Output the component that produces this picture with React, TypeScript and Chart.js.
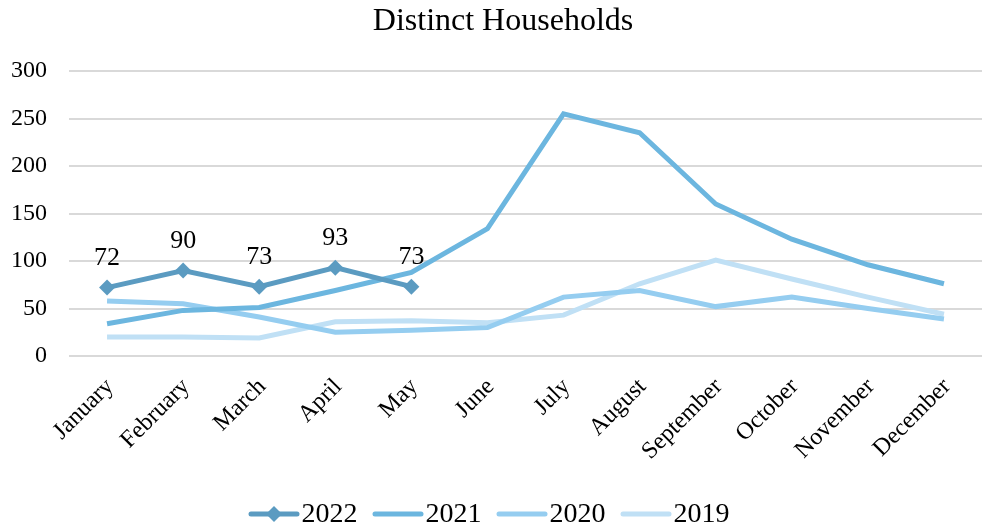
import React, { useEffect, useRef } from "react";
import { Chart, registerables } from "chart.js";

Chart.register(...registerables);

const months = ["January","February","March","April","May","June","July","August","September","October","November","December"];
const s2022 = [72, 90, 73, 93, 73, null, null, null, null, null, null, null];
const s2021 = [34, 48, 51, 69, 88, 134, 255, 235, 160, 123, 96, 76];
const s2020 = [58, 55, 41, 25, 27, 30, 62, 69, 52, 62, 50, 39];
const s2019 = [20, 20, 19, 36, 37, 35, 43, 76, 101, 81, 62, 44];
const seriesNames = ["2022", "2021", "2020", "2019"];
const colors = ["#5b9bc1", "#6cb6df", "#95cdf0", "#c0e0f5"];
const titleText = "Distinct Households";
const FONT = "'Liberation Serif', 'Times New Roman', serif";
const Y_PAD = 22;

export default function App() {
  const ref = useRef<HTMLCanvasElement | null>(null);
  useEffect(() => {
    if (!ref.current) return;
    const overlay = {
      id: "overlay",
      afterDatasetsDraw(chart: any) {
        const ctx = chart.ctx;
        ctx.save();
        ctx.fillStyle = "#000";
        ctx.font = `26px ${FONT}`;
        ctx.textAlign = "center";
        ctx.textBaseline = "alphabetic";
        const meta = chart.getDatasetMeta(0);
        meta.data.forEach((pt: any, i: number) => {
          const v = s2022[i];
          if (v == null) return;
          ctx.fillText(String(v), pt.x, pt.y - 23);
        });
        // title
        ctx.font = `32px ${FONT}`;
        ctx.fillText(titleText, 503, 30);
        // x-axis category labels, rotated 45°
        const xs = chart.scales.x;
        ctx.font = `24px ${FONT}`;
        ctx.textAlign = "right";
        ctx.textBaseline = "middle";
        months.forEach((m, i) => {
          const px = xs.getPixelForTick(i);
          ctx.save();
          ctx.translate(px + 3, chart.chartArea.bottom + 27);
          ctx.rotate(-Math.PI / 4);
          ctx.fillText(m, 0, 0);
          ctx.restore();
        });
        // legend
        ctx.font = `28px ${FONT}`;
        ctx.textAlign = "left";
        ctx.textBaseline = "alphabetic";
        const lineLen = 51, gap = 2, spacing = 15;
        const widths = seriesNames.map((n) => ctx.measureText(n).width);
        const total = widths.reduce((a, w) => a + lineLen + gap + w, 0) + spacing * (seriesNames.length - 1);
        let x = 489 - total / 2;
        const ly = 514, ty = 522;
        seriesNames.forEach((n, i) => {
          ctx.strokeStyle = colors[i];
          ctx.lineWidth = 5;
          ctx.lineCap = "round";
          ctx.beginPath();
          ctx.moveTo(x + 2.5, ly);
          ctx.lineTo(x + lineLen - 2.5, ly);
          ctx.stroke();
          if (i === 0) {
            const cx = x + lineLen / 2;
            ctx.fillStyle = colors[i];
            ctx.beginPath();
            ctx.moveTo(cx, ly - 8);
            ctx.lineTo(cx + 8, ly);
            ctx.lineTo(cx, ly + 8);
            ctx.lineTo(cx - 8, ly);
            ctx.closePath();
            ctx.fill();
          }
          ctx.fillStyle = "#000";
          ctx.fillText(n, x + lineLen + gap, ty);
          x += lineLen + gap + widths[i] + spacing;
        });
        ctx.restore();
      },
    };
    const mk = (label: string, data: any[], i: number) => ({
      label,
      data,
      borderColor: colors[i],
      backgroundColor: colors[i],
      borderWidth: 5,
      pointRadius: i === 0 ? 8 : 0,
      pointHoverRadius: i === 0 ? 8 : 0,
      pointStyle: "rectRot",
      pointBorderWidth: 0,
      tension: 0,
      spanGaps: false,
      order: i,
    });
    const chart = new Chart(ref.current, {
      type: "line",
      data: {
        labels: months,
        datasets: [
          mk(seriesNames[0], s2022, 0),
          mk(seriesNames[1], s2021, 1),
          mk(seriesNames[2], s2020, 2),
          mk(seriesNames[3], s2019, 3),
        ],
      },
      options: {
        animation: false,
        responsive: false,
        maintainAspectRatio: false,
        layout: { autoPadding: false, padding: { top: 71, left: 11, right: 0, bottom: 169 } },
        font: { family: FONT },
        plugins: {
          title: { display: false },
          tooltip: { enabled: false },
          legend: { display: false },
        },
        scales: {
          x: {
            offset: true,
            grid: { display: false, drawTicks: false },
            border: { display: false },
            ticks: { display: false, autoSkip: false },
          },
          y: {
            min: 0,
            max: 300,
            grid: { color: "#d9d9d9", lineWidth: 2, drawTicks: false },
            border: { display: false },
            afterFit: (scale: any) => {
              scale.width = scale.width - Y_PAD;
            },
            ticks: {
              stepSize: 50,
              color: "#000",
              font: { family: FONT, size: 24 },
              padding: Y_PAD,
            },
          },
        },
      },
      plugins: [overlay],
    } as any);
    return () => chart.destroy();
  }, []);
  return (
    <div style={{ position: "absolute", left: 0, top: 0, width: 982, height: 525, background: "#fff" }}>
      <canvas ref={ref} width={982} height={525} style={{ width: 982, height: 525 }} />
    </div>
  );
}
